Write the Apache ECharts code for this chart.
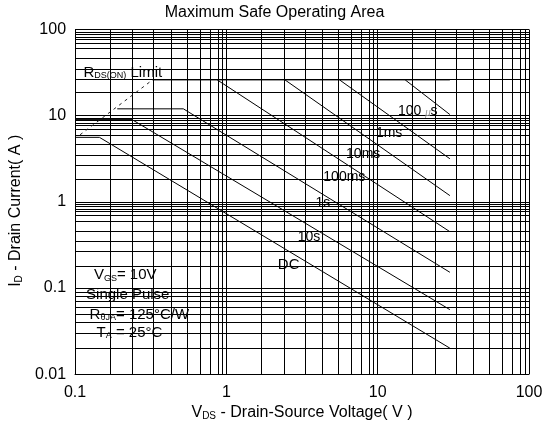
<!DOCTYPE html>
<html>
<head>
<meta charset="utf-8">
<script src="https://cdn.jsdelivr.net/npm/echarts@6/dist/echarts.min.js"></script>
<style>
  html, body { margin: 0; padding: 0; background: #fff; }
  #chart { width: 549px; height: 426px; }
</style>
</head>
<body>
<div id="chart"></div>
<script>
// Safe operating area boundaries, vertices as [V_DS (V), I_D (A)]
const limitRdsOn   = [[0.108, 6.0], [0.325, 26]];
const limitCurrent = [[0.325, 26], [30, 26]];
const pulse100us   = [[15.2, 26], [30, 10.3]];
const pulse1ms     = [[5.6, 26], [30, 3.16]];
const pulse10ms    = [[2.44, 26], [30, 1.18]];
const pulse100ms   = [[0.87, 26], [30, 0.45]];
const pulse1s      = [[0.19, 12], [0.52, 12], [30, 0.152]];
const pulse10s     = [[0.1, 9], [0.238, 9], [30, 0.056]];
const dcLine       = [[0.1, 5.6], [0.145, 5.6], [30, 0.02]];

// Axis ranges and decade starts
const xRange = [0.1, 100];
const yRange = [0.01, 100];
const xDecades = [0.1, 1, 10];
const yDecades = [0.01, 0.1, 1, 10];
// Minor grid positions inside each decade (multiples of the decade start)
const xMinor = [1.7, 2.4, 3.3, 4.3, 5.45, 6.7, 7.8, 8.8, 9.4];
const yMinor = [1.85, 2.65, 3.5, 4.6, 6.0, 7.0, 7.65, 8.2, 8.75, 9.3];

const FONT = 'Liberation Sans, Arial, sans-serif';

// Text notes anchored at data coordinates
const notes = [
  { at: [0.207, 32.3], text: '{b|R}{s|DS(ON)}{b| Limit}' },
  { at: [18.4, 11.7], text: '{c|100 }{u|μ}{c|s}' },
  { at: [11.9, 6.41], text: '{c|1ms}' },
  { at: [8.02, 3.71], text: '{c|10ms}' },
  { at: [6.02, 1.99], text: '{c|100ms}' },
  { at: [4.35, 0.98], text: '{c|1s}' },
  { at: [3.52, 0.402], text: '{c|10s}' },
  { at: [2.58, 0.189], text: '{d|DC}' },
  { at: [0.2146, 0.145], text: '{b|V}{s|GS}{b|= 10V}' },
  { at: [0.223, 0.0853], text: '{b|Single Pulse}' },
  { at: [0.266, 0.05], text: '{b|R}{s|θJA}{b|= 125°C/W}' },
  { at: [0.229, 0.0308], text: '{b|T}{s|A}{b| = 25°C}' }
];

const gridMarks = [];
xDecades.forEach(d => xMinor.forEach(m => gridMarks.push({ xAxis: +(d * m).toPrecision(4) })));
yDecades.forEach(d => yMinor.forEach(m => gridMarks.push({ yAxis: +(d * m).toPrecision(4) })));

const plain = { color: '#000', textBorderWidth: 0, fontFamily: FONT, verticalAlign: 'bottom' };
const noteRich = {
  b: { fontSize: 15, lineHeight: 17 },
  s: { fontSize: 9, lineHeight: 17 },
  c: { fontSize: 14, lineHeight: 16 },
  d: { fontSize: 15, lineHeight: 16 },
  u: { fontSize: 10, lineHeight: 16, fill: '#999', fontStyle: 'italic' }
};
Object.keys(noteRich).forEach(k => {
  noteRich[k] = Object.assign({ fill: '#000', fontFamily: FONT, verticalAlign: 'bottom' }, noteRich[k]);
});

const fmt = v => String(+(+v).toPrecision(3));

function curve(name, data, extra) {
  return Object.assign({
    name, type: 'line', data, symbol: 'none', silent: true,
    lineStyle: { color: '#000', width: 1 }, z: 5
  }, extra || {});
}

const chart = echarts.init(document.getElementById('chart'), null, { renderer: 'canvas' });
chart.setOption({
  animation: false,
  backgroundColor: '#fff',
  title: {
    text: 'Maximum Safe Operating Area',
    left: 'center', top: 5,
    padding: 0,
    textStyle: { fontFamily: FONT, fontSize: 16, fontWeight: 'normal', color: '#000' }
  },
  grid: { left: 72, right: 20, top: 29.5, bottom: 50.5 },
  xAxis: {
    type: 'log', logBase: 10, min: xRange[0], max: xRange[1],
    name: '{b|V}{s|DS}{b| - Drain-Source Voltage( V )}',
    nameLocation: 'middle', nameGap: 28,
    nameTextStyle: { rich: {
      b: Object.assign({ fontSize: 16, lineHeight: 18 }, plain),
      s: Object.assign({ fontSize: 10, lineHeight: 18 }, plain)
    } },
    axisLine: { show: true, lineStyle: { color: '#000', width: 1 } },
    axisTick: { show: false },
    axisLabel: { fontFamily: FONT, fontSize: 16, color: '#000', margin: 10, formatter: fmt },
    splitLine: { show: true, lineStyle: { color: '#000', width: 1 } }
  },
  yAxis: {
    type: 'log', logBase: 10, min: yRange[0], max: yRange[1],
    name: '{b|I}{s|D}{b| - Drain Current( A )}',
    nameLocation: 'middle', nameGap: 50, nameRotate: 90,
    nameTextStyle: {
      padding: [0, 18, 0, 0],
      rich: {
        b: Object.assign({ fontSize: 16, lineHeight: 18 }, plain),
        s: Object.assign({ fontSize: 10, lineHeight: 18 }, plain)
      }
    },
    axisLine: { show: true, lineStyle: { color: '#000', width: 1 } },
    axisTick: { show: false },
    axisLabel: { fontFamily: FONT, fontSize: 16, color: '#000', margin: 9, formatter: fmt },
    splitLine: { show: true, lineStyle: { color: '#000', width: 1 } }
  },
  series: [
    curve('RDS(ON) limit', limitRdsOn, { lineStyle: { color: '#222', width: 1, type: [3, 4] } }),
    curve('Current limit', limitCurrent, {
      markLine: {
        silent: true, symbol: 'none', animation: false,
        label: { show: false },
        lineStyle: { color: '#000', width: 1, type: 'solid' },
        emphasis: { disabled: true },
        z: 1,
        data: gridMarks
      }
    }),
    curve('100us', pulse100us),
    curve('1ms', pulse1ms),
    curve('10ms', pulse10ms),
    curve('100ms', pulse100ms),
    curve('1s', pulse1s),
    curve('10s', pulse10s),
    curve('DC', dcLine)
  ]
});

// Place the notes through the axis scales
chart.setOption({
  graphic: notes.map(n => {
    const p = chart.convertToPixel({ gridIndex: 0 }, n.at);
    return {
      type: 'text', silent: true, z: 100,
      x: p[0], y: p[1],
      style: {
        text: n.text, rich: noteRich,
        align: 'center', verticalAlign: 'middle',
        fill: '#000', font: '15px ' + FONT
      }
    };
  })
});
</script>
</body>
</html>
